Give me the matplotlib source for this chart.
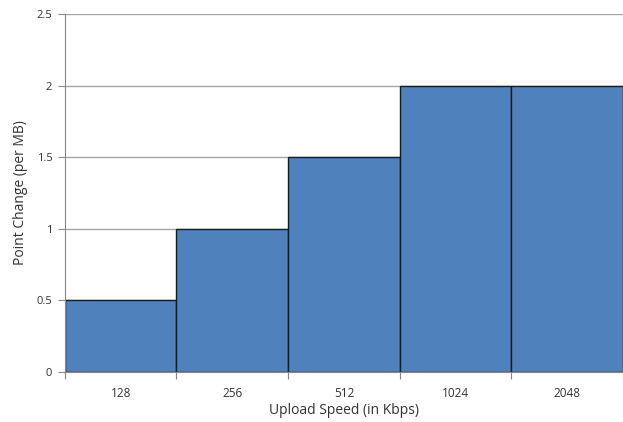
import numpy as np
import matplotlib.pyplot as plt

speeds = ['128', '256', '512', '1024', '2048']
points = [0.5, 1.0, 1.5, 2.0, 2.0]
yticks = [0, 0.5, 1, 1.5, 2, 2.5]

plt.rcParams['font.family'] = ['Open Sans', 'DejaVu Sans']

fig = plt.figure(figsize=(6.23, 4.22), dpi=100)
ax = fig.add_axes([0.104, 0.1185, 0.896, 0.8485])

x = np.arange(len(speeds))
ax.bar(x, points, width=1.0, color='#4F81BD', edgecolor='#1a1a1a', linewidth=1.0, zorder=3)

ax.set_xlim(-0.5, len(speeds) - 0.5)
ax.set_ylim(0, 2.5)
ax.set_yticks(yticks)
ax.set_yticklabels(['0', '0.5', '1', '1.5', '2', '2.5'], fontsize=8, color='#333333')
ax.yaxis.grid(True, color='#a6a6a6', linewidth=1.0, zorder=0)

# category labels centred, tick marks on the boundaries
ax.set_xticks(np.arange(-0.5, len(speeds) + 0.5, 1))
ax.set_xticklabels([])
ax.set_xticks(x, minor=True)
ax.set_xticklabels(speeds, minor=True, fontsize=8.5, color='#333333')
ax.tick_params(axis='x', which='minor', length=0, pad=11)
ax.tick_params(axis='x', which='major', length=5, color='#888888')
ax.tick_params(axis='y', length=5, color='#888888', pad=4)

for s in ['top', 'right']:
    ax.spines[s].set_visible(False)
ax.spines['left'].set_color('#888888')
ax.spines['bottom'].set_color('#888888')
ax.spines['left'].set_zorder(4)
ax.spines['bottom'].set_zorder(4)

ax.set_xlabel('Upload Speed (in Kbps)', fontsize=10, color='#333333', labelpad=2)
ax.set_ylabel('Point Change (per MB)', fontsize=10, color='#333333', labelpad=6)

fig.savefig('out.png', dpi=100)
